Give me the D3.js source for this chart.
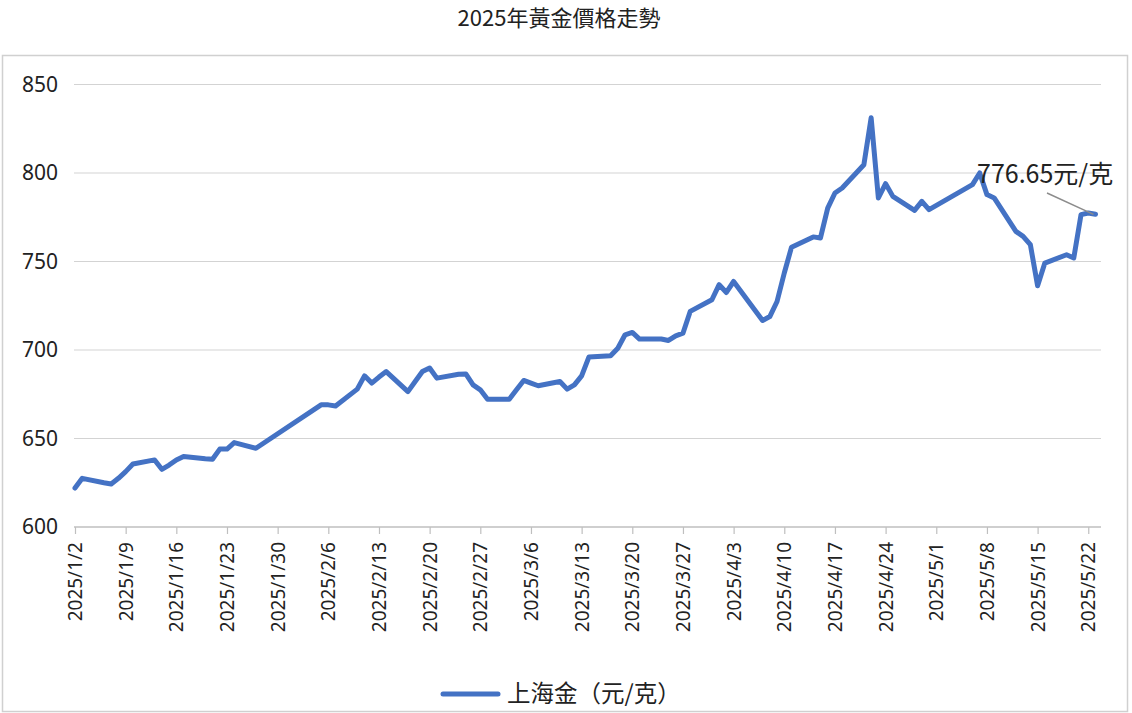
<!DOCTYPE html>
<meta charset="utf-8">
<script src="https://d3js.org/d3.v7.min.js"></script>
<style>
  body { margin: 0; background: #fff; }
  text { font-family: "Noto Sans CJK TC", "Noto Sans", sans-serif; fill: #222; }
</style>
<div id="chart"></div>
<script>

  // trading days (Shanghai gold, yuan per gram)
  const dates = [
    "2025-01-02","2025-01-03","2025-01-06","2025-01-07","2025-01-08","2025-01-09","2025-01-10",
    "2025-01-13","2025-01-14","2025-01-15","2025-01-16","2025-01-17",
    "2025-01-20","2025-01-21","2025-01-22","2025-01-23","2025-01-24","2025-01-27",
    "2025-02-05","2025-02-06","2025-02-07",
    "2025-02-10","2025-02-11","2025-02-12","2025-02-13","2025-02-14",
    "2025-02-17","2025-02-18","2025-02-19","2025-02-20","2025-02-21",
    "2025-02-24","2025-02-25","2025-02-26","2025-02-27","2025-02-28",
    "2025-03-03","2025-03-04","2025-03-05","2025-03-06","2025-03-07",
    "2025-03-10","2025-03-11","2025-03-12","2025-03-13","2025-03-14",
    "2025-03-17","2025-03-18","2025-03-19","2025-03-20","2025-03-21",
    "2025-03-24","2025-03-25","2025-03-26","2025-03-27","2025-03-28",
    "2025-03-31","2025-04-01","2025-04-02","2025-04-03",
    "2025-04-07","2025-04-08","2025-04-09","2025-04-10","2025-04-11",
    "2025-04-14","2025-04-15","2025-04-16","2025-04-17","2025-04-18",
    "2025-04-21","2025-04-22","2025-04-23","2025-04-24","2025-04-25",
    "2025-04-28","2025-04-29","2025-04-30",
    "2025-05-06","2025-05-07","2025-05-08","2025-05-09",
    "2025-05-12","2025-05-13","2025-05-14","2025-05-15","2025-05-16",
    "2025-05-19","2025-05-20","2025-05-21","2025-05-22","2025-05-23"
  ];
  const prices = [
    622.0, 627.5, 625.0, 624.3, 627.5, 631.3, 635.6,
    637.9, 632.6, 635.0, 637.9, 639.8,
    638.6, 638.3, 644.0, 644.0, 647.7, 644.5,
    669.0, 669.0, 668.4,
    677.9, 685.4, 681.3, 684.7, 687.8,
    676.5, 682.2, 687.8, 689.8, 684.1,
    686.3, 686.5, 680.3, 677.5, 672.2,
    672.2, 677.5, 682.8, 681.3, 679.8,
    682.2, 677.9, 680.3, 685.4, 696.0,
    696.7, 701.0, 708.6, 709.9, 706.2,
    706.2, 705.4, 708.0, 709.5, 721.8,
    728.4, 736.9, 732.5, 738.7,
    716.7, 718.9, 727.4, 743.5, 758.1,
    763.9, 763.3, 780.2, 788.7, 791.5,
    804.7, 831.2, 785.9, 794.0, 786.8,
    778.9, 784.0, 779.3,
    793.4, 800.0, 787.8, 785.9,
    767.0, 764.2, 759.5, 736.3, 749.1,
    753.8, 752.0, 776.5, 777.4, 776.65
  ];
  const tickDates = [
    "2025-01-02","2025-01-09","2025-01-16","2025-01-23","2025-01-30",
    "2025-02-06","2025-02-13","2025-02-20","2025-02-27",
    "2025-03-06","2025-03-13","2025-03-20","2025-03-27",
    "2025-04-03","2025-04-10","2025-04-17","2025-04-24",
    "2025-05-01","2025-05-08","2025-05-15","2025-05-22"
  ];
  const yTicks = [600, 650, 700, 750, 800, 850];
  const title = "2025年黃金價格走勢";
  const seriesName = "上海金（元/克）";
  const lastLabel = "776.65元/克";

  const width = 1132, height = 713;
  const parse = d3.utcParse("%Y-%m-%d");
  const fmt = d3.utcFormat("%Y/%-m/%-d");

  const data = dates.map((d, i) => ({date: parse(d), value: prices[i]}));

  const svg = d3.select("#chart")
    .append("svg")
      .attr("width", width)
      .attr("height", height);

  // outer chart border
  svg.append("rect")
    .attr("x", 2.5).attr("y", 55.5)
    .attr("width", 1125).attr("height", 656)
    .attr("fill", "none")
    .attr("stroke", "#d0d0d0")
    .attr("stroke-width", 1.5);

  // title
  svg.append("text")
    .attr("x", 559).attr("y", 26)
    .attr("text-anchor", "middle")
    .style("font-size", "22px")
    .text(title);

  const x = d3.scaleUtc()
    .domain([parse("2025-01-02"), parse("2025-05-23")])
    .range([75, 1095.5]);

  const y = d3.scaleLinear()
    .domain([600, 850])
    .range([527, 84.5]);

  // gridlines
  svg.append("g")
    .selectAll("line")
    .data(yTicks.slice(1))
    .join("line")
      .attr("x1", 74).attr("x2", 1101)
      .attr("y1", d => y(d)).attr("y2", d => y(d))
      .attr("stroke", "#d3d3d3")
      .attr("stroke-width", 1.2);

  // Y axis
  const yAxis = svg.append("g")
    .attr("transform", "translate(58,0)")
    .call(d3.axisLeft(y).tickValues(yTicks).tickSize(0).tickPadding(0));
  yAxis.select(".domain").remove();
  yAxis.selectAll("text")
    .style("font-size", "21px")
    .style("font-family", "'Noto Sans', sans-serif")
    .attr("fill", "#222");

  // X axis
  const xAxis = svg.append("g")
    .attr("transform", "translate(0,527)")
    .call(d3.axisBottom(x).tickValues(tickDates.map(parse)).tickFormat(fmt).tickSize(7).tickSizeOuter(0));
  xAxis.select(".domain").remove();
  xAxis.selectAll(".tick line").attr("stroke", "#bfbfbf").attr("stroke-width", 1.2);
  xAxis.selectAll("text")
    .style("font-size", "19px")
    .style("font-family", "'Noto Sans', sans-serif")
    .attr("fill", "#222")
    .attr("transform", "rotate(-90)")
    .attr("text-anchor", "end")
    .attr("x", -15)
    .attr("y", 0)
    .attr("dy", "0.35em");
  svg.append("line")
    .attr("x1", 74).attr("x2", 1101)
    .attr("y1", 527).attr("y2", 527)
    .attr("stroke", "#bfbfbf")
    .attr("stroke-width", 1.4);

  // price line
  const line = d3.line()
    .x(d => x(d.date))
    .y(d => y(d.value));

  svg.append("path")
    .datum(data)
    .attr("fill", "none")
    .attr("stroke", "#4472C4")
    .attr("stroke-width", 5)
    .attr("stroke-linejoin", "round")
    .attr("stroke-linecap", "round")
    .attr("d", line);

  // label for the last value
  const last = data[data.length - 1];
  svg.append("line")
    .attr("x1", 1047).attr("y1", 193)
    .attr("x2", x(last.date) - 2).attr("y2", y(last.value))
    .attr("stroke", "#8c8c8c")
    .attr("stroke-width", 1.5);
  svg.append("text")
    .attr("x", 977).attr("y", 183)
    .style("font-size", "25px")
    .text(lastLabel);

  // legend
  const legend = svg.append("g").attr("transform", "translate(0,694)");
  legend.append("line")
    .attr("x1", 443).attr("x2", 498)
    .attr("stroke", "#4472C4")
    .attr("stroke-width", 5)
    .attr("stroke-linecap", "round");
  legend.append("text")
    .attr("x", 507).attr("y", 0)
    .attr("dy", "0.35em")
    .style("font-size", "23.5px")
    .text(seriesName);

</script>
